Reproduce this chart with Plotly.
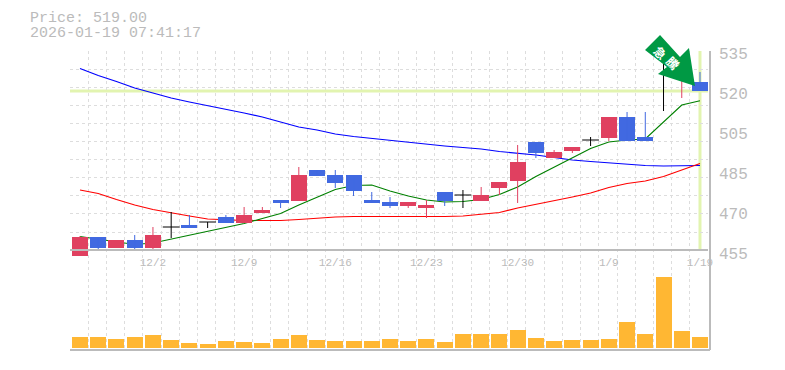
import plotly.graph_objects as go

dates = ["11/26","11/27","11/28","12/1","12/2","12/3","12/4","12/5","12/8","12/9",
         "12/10","12/11","12/12","12/15","12/16","12/17","12/18","12/19","12/22","12/23",
         "12/24","12/25","12/26","12/29","12/30","1/5","1/6","1/7","1/8","1/9",
         "1/13","1/14","1/15","1/16","1/19"]
opens  = [453,460.6,456.2,459.4,456.2,464.6,465.4,466.6,468.6,466.2,470.2,475.4,475,487.4,485.4,485.4,475.4,474.6,473,472.2,
          478.6,477.4,475,480.2,483,498.6,492.2,495,499.4,500.2,508.6,500.6,533.4,525,522.6]
closes = [460.6,456.2,459.4,456.2,461.4,464.6,464.2,466.6,466.2,469.4,471.4,474.2,485.4,485,482.2,479,474.2,473,474.6,473.4,
          475,477.4,477.4,482.6,490.6,494.2,494.6,496.6,499.4,508.6,499,499,533.4,530,519]
highs  = [461,460.6,459.4,461.4,464.6,470.6,469.4,466.6,469.4,472.6,472.6,475.4,488.6,487.4,487.4,485.4,478.6,476.6,474.6,475.4,
          478.6,479.4,480.6,482.6,497.4,498.6,495.4,496.6,500.6,508.6,510.6,510.6,533.4,530,526.6]
lows   = [453,455.1,456.2,455.1,455.1,460.2,464.2,464.2,466.2,466.2,470.2,472.2,475,485,480.2,477,474.2,472.2,472.2,468.2,
          473,472.2,475,477.4,474.2,492.2,492.2,494.2,497,499,499,499,511,516.2,519]
ma_short = [460.8,459.8,458.6,457.6,458.2,459.8,461.4,463,464.6,466,468,470,473.4,476.6,479.6,481.2,481.4,479,477,475.4,
            474.6,474.8,475.6,477.6,480.6,484.8,488.6,492.2,496,498.6,499.4,499.8,506.6,513.4,515.1]
ma_mid = [479.4,478,475.6,473.4,471.6,470.2,469,467.8,467.4,467.2,467.2,467.2,467.6,468.2,468.6,468.8,468.8,468.8,468.8,468.6,
          468.8,469,469.6,470.4,472.2,473.6,475,476.6,478.2,480.4,482,483,484.8,487.4,490]
ma_long = [528,525.2,522.8,520.2,518.2,516.2,514.6,513.2,511.6,510.2,508.6,506.6,504.6,503.4,501.8,500.8,500,499.2,498.4,497.8,
           497,496.4,495.8,494.8,494.2,493.4,492.4,491.4,490.8,490.2,489.6,489.2,489,489,489.2]
volumes = [11,11,9,11,13,8,5,4,7,6,5,9,13,8,7,7,7,9,7,9,6,14,14,14,18,10,7,8,8,9,26,14,71,17,11]
last_price = 519
price_label_vals = [455,471,487,503,519,535]
price_label_text = ["455","470","485","505","520","535"]
label_idx = [4,9,14,19,24,29,34]

W,H = 785,370
L,R,T,B = 70,708,51,350
PW,PH = R-L,B-T
def xpaper(px): return (px-L)/PW
def ypaper(py): return (B-py)/PH
idx = list(range(len(dates)))
slot = 18.235
xrange_ = [(L-80)/slot,(R-80)/slot]
price_range = [455-(B-251)*0.4, 535+(T-51)*0.4]
grid = "#dddddd"
mono = "Liberation Mono"
axc = "#bbbbbb"
RED,BLUE = "#e04060","#4169e1"

fig = go.Figure()
for vals,col in [(ma_long,"#0000ff"),(ma_mid,"#ff0000"),(ma_short,"#008000")]:
    fig.add_trace(go.Scatter(x=idx,y=vals,mode="lines",line=dict(color=col,width=1.2),xaxis="x",yaxis="y",showlegend=False,hoverinfo="skip"))
fig.add_trace(go.Bar(x=idx,y=volumes,marker=dict(color="#ffb733",line=dict(width=0)),width=0.88,xaxis="x",yaxis="y2",showlegend=False,hoverinfo="skip"))

def colour(i):
    if opens[i]==closes[i]: return "#000000"
    return RED if closes[i]>opens[i] else BLUE
for col in [RED,BLUE,"#000000"]:
    ii = [i for i in idx if colour(i)==col]
    xs,ys = [],[]
    for i in ii:
        xs += [i,i,None]
        ys += [lows[i],highs[i],None]
    fig.add_trace(go.Scatter(x=xs,y=ys,mode="lines",line=dict(color=col,width=1),xaxis="x2",yaxis="y3",showlegend=False,hoverinfo="skip"))
body = [i for i in idx if opens[i]!=closes[i]]
fig.add_trace(go.Bar(x=body,y=[abs(closes[i]-opens[i]) for i in body],base=[min(opens[i],closes[i]) for i in body],
    marker=dict(color=[colour(i) for i in body],line=dict(width=0)),width=0.88,xaxis="x2",yaxis="y3",showlegend=False,hoverinfo="skip"))
flat = [i for i in idx if opens[i]==closes[i]]
fig.add_trace(go.Scatter(x=flat,y=[closes[i] for i in flat],mode="markers",
    marker=dict(symbol="line-ew",size=12,line=dict(color="#000000",width=1)),xaxis="x2",yaxis="y3",showlegend=False,hoverinfo="skip"))

fig.add_shape(type="line",xref="paper",x0=0,x1=1,yref="y",y0=last_price,y1=last_price,line=dict(color="#e2f4b0",width=3),layer="below")
fig.add_shape(type="line",xref="x",x0=idx[-1],x1=idx[-1],yref="paper",y0=ypaper(250),y1=1,line=dict(color="#e2f4b0",width=3),layer="below")

arrow_px = [(660,35),(645,50),(667,67),(658,74),(695,86),(689,48),(680,57)]
path = "M "+" L ".join(f"{xpaper(x):.4f} {ypaper(y):.4f}" for x,y in arrow_px)+" Z"
fig.add_shape(type="path",path=path,xref="paper",yref="paper",fillcolor="#009944",line=dict(width=0),layer="above")
for ch,(px,py) in zip("急騰",[(661,52),(673,63)]):
    fig.add_annotation(xref="paper",yref="paper",x=xpaper(px),y=ypaper(py),text="<b>"+ch+"</b>",showarrow=False,textangle=45,
        font=dict(family="Noto Sans CJK JP",size=12,color="#ffffff"),xanchor="center",yanchor="middle")

for txt,py in [("Price: 519.00",18),("2026-01-19 07:41:17",33)]:
    fig.add_annotation(xref="paper",yref="paper",x=xpaper(30),y=ypaper(py),text=txt,showarrow=False,
        xanchor="left",yanchor="middle",xshift=-1,height=14,borderpad=0,font=dict(family=mono,size=15,color=axc))

grid_x = [i-0.55 for i in idx]
n_h = 11
grid_y = [535-k*(18.1*0.4) for k in range(n_h)]
dash = "3px,3px"
fig.update_layout(
    width=W,height=H,autosize=False,margin=dict(l=L,r=W-R,t=T,b=H-B),
    paper_bgcolor="#ffffff",plot_bgcolor="#ffffff",showlegend=False,bargap=0,barmode="overlay",
    xaxis=dict(domain=[0,1],range=xrange_,tickmode="array",tickvals=grid_x,showticklabels=False,ticks="",
        showgrid=True,gridcolor=grid,griddash=dash,gridwidth=1,zeroline=False,showline=False,anchor="y"),
    xaxis2=dict(domain=[0,1],range=xrange_,overlaying="x",anchor="free",position=ypaper(250),side="bottom",
        tickmode="array",tickvals=label_idx,ticktext=[dates[i] for i in label_idx],ticks="",
        showgrid=False,zeroline=False,showline=True,linecolor=axc,linewidth=2,ticklabelstandoff=2,
        tickfont=dict(family=mono,size=11,color=axc)),
    yaxis=dict(domain=[0,1],range=price_range,tickmode="array",tickvals=grid_y,showticklabels=False,ticks="",
        showgrid=True,gridcolor=grid,griddash=dash,gridwidth=1,zeroline=False,showline=False,anchor="x"),
    yaxis2=dict(domain=[0,1],range=[-2,PH-2],overlaying="y",side="left",showgrid=False,showticklabels=False,
        zeroline=False,showline=False,ticks="",anchor="x"),
    yaxis3=dict(domain=[0,1],range=price_range,overlaying="y",side="right",anchor="x2",tickmode="array",
        tickvals=price_label_vals,ticktext=price_label_text,ticks="",showgrid=False,zeroline=False,showline=False,
        ticklabelposition="outside",ticklabelstandoff=10,ticklabelshift=2,tickfont=dict(family=mono,size=16,color=axc)),
)
fig.add_shape(type="line",xref="paper",yref="paper",x0=xpaper(710),x1=xpaper(710),y0=0,y1=1,line=dict(color=axc,width=2),layer="above")
fig.add_shape(type="line",xref="paper",yref="paper",x0=0,x1=xpaper(710),y0=0,y1=0,line=dict(color=axc,width=2),layer="above")
fig.write_html("out.html",post_script="document.body.style.margin='0';",config=dict(displayModeBar=False))
